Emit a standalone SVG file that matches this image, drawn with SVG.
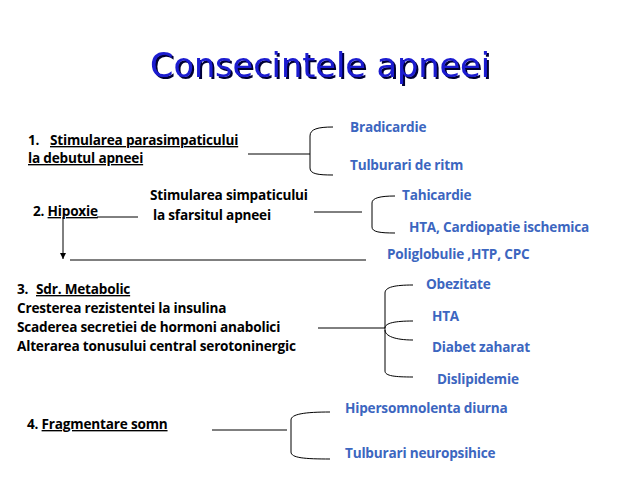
<svg xmlns="http://www.w3.org/2000/svg" width="638" height="479" viewBox="0 0 638 479">
<style>
text{font-family:"Open Sans","Liberation Sans",sans-serif;font-weight:bold;font-size:13.6px;letter-spacing:-0.2px}
.k{fill:#000}
.b{fill:#3c66c0}
.u{text-decoration:underline}
.ln{stroke:#000;stroke-width:1;fill:none}
.t{font-family:"DejaVu Sans",sans-serif;font-weight:normal;font-size:34px;letter-spacing:0}
</style>
<defs>
<marker id="ar" markerWidth="6" markerHeight="6" refX="6" refY="3" orient="auto" markerUnits="userSpaceOnUse"><path d="M0,0 L6,3 L0,6 Z" fill="#000"/></marker>
<filter id="sh" x="-5%" y="-20%" width="110%" height="140%"><feDropShadow dx="2" dy="2" stdDeviation="0.3" flood-color="#000033"/></filter>
</defs>
<rect width="638" height="479" fill="#fff"/>
<g id="title">
<text class="t" x="150" y="77" fill="#1a1ad0" filter="url(#sh)" textLength="340" lengthAdjust="spacingAndGlyphs">Consecintele apneei</text>
</g>
<g id="n1"><text class="k" x="28" y="145">1.</text><text class="k u" x="50" y="145">Stimularea parasimpaticului </text><text class="k u" x="28" y="163">la debutul apneei</text></g>
<g id="n2"><text class="k" x="33" y="216">2. <tspan class="u">Hipoxie</tspan></text></g>
<g id="n2b"><text class="k" x="150" y="200">Stimularea simpaticului</text><text class="k" x="153" y="220">la sfarsitul apneei</text></g>
<g id="n3"><text class="k" x="17" y="294">3.</text><text class="k u" x="36" y="294">Sdr. Metabolic</text>
<text class="k" x="17" y="313">Cresterea rezistentei la insulina</text>
<text class="k" x="17" y="332">Scaderea secretiei de hormoni anabolici</text>
<text class="k" x="17" y="351">Alterarea tonusului central serotoninergic</text></g>
<g id="n4"><text class="k" x="27" y="429">4. <tspan class="u">Fragmentare somn</tspan></text></g>
<g id="out">
<text class="b" x="350" y="132">Bradicardie</text>
<text class="b" x="350" y="170">Tulburari de ritm</text>
<text class="b" x="402" y="200">Tahicardie</text>
<text class="b" x="409" y="232">HTA, Cardiopatie ischemica</text>
<text class="b" x="387" y="259">Poliglobulie ,HTP, CPC</text>
<text class="b" x="426" y="289">Obezitate</text>
<text class="b" x="432" y="321">HTA</text>
<text class="b" x="432" y="352">Diabet zaharat</text>
<text class="b" x="437" y="384">Dislipidemie</text>
<text class="b" x="345" y="413">Hipersomnolenta diurna</text>
<text class="b" x="345" y="458">Tulburari neuropsihice</text>
</g>
<g id="connectors" class="ln">
<path d="M248,154 H310"/>
<path d="M333,127 C318,127 310,129 310,136 V168 C310,174 318,175 333,175"/>
<path d="M97,217 H138"/>
<path d="M314,212 H362"/>
<path d="M395,196 C380,196 372,198 372,203 V227 C372,232 380,233 395,233"/>
<path d="M63,217 V259" marker-end="url(#ar)"/>
<path d="M70,260 H366"/>
<path d="M318,328 H385"/>
<path d="M413,285 C395,285 385,287 385,293 V371 C385,376 395,377 413,377"/>
<path d="M385,328 C385,323 395,321 413,321"/>
<path d="M385,330 C385,336 395,340 413,340"/>
<path d="M212,430 H287"/>
<path d="M330,412 C305,412 291,414 291,420 V452 C291,458 305,459 330,459"/>
</g>
</svg>
